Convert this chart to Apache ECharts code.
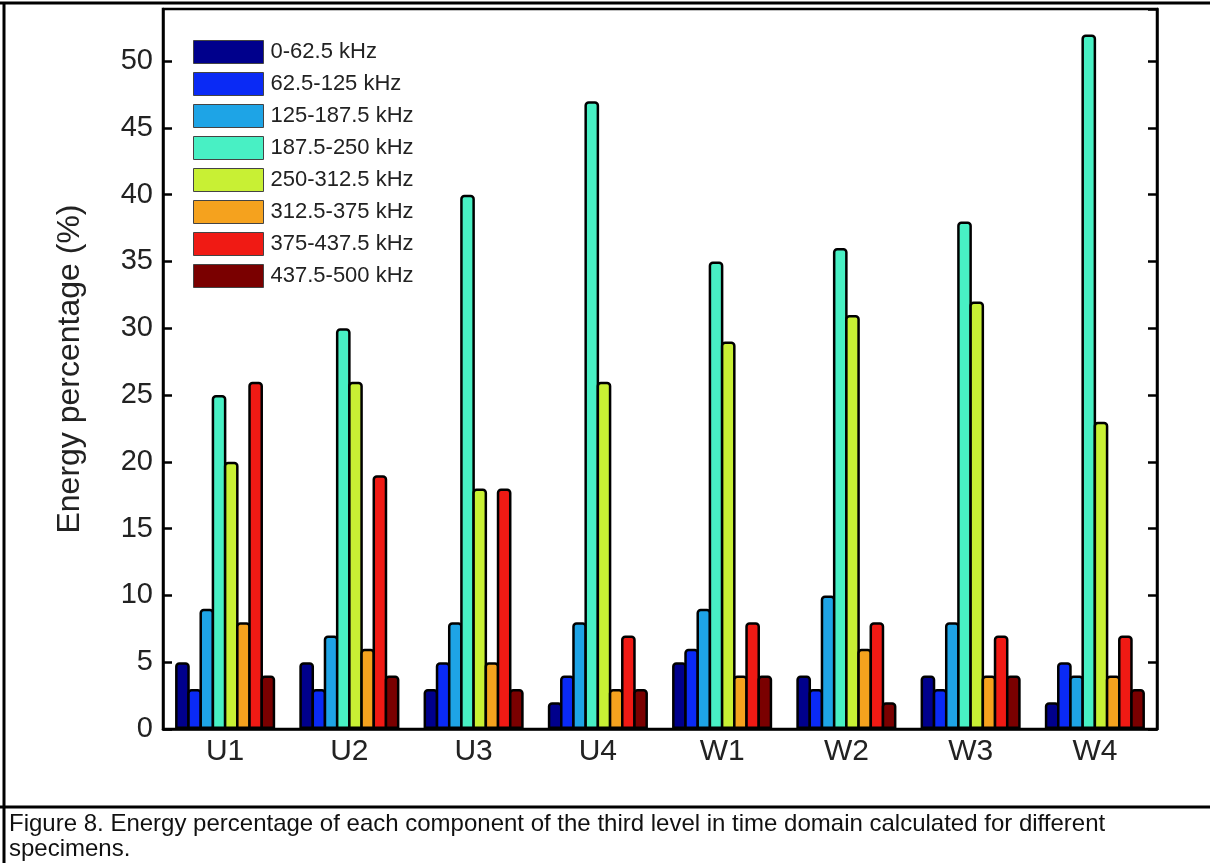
<!DOCTYPE html>
<html>
<head>
<meta charset="utf-8">
<script src="https://cdn.jsdelivr.net/npm/echarts@6/dist/echarts.min.js"></script>
<style>
html,body{margin:0;padding:0;background:#fff;}
#chart{width:1210px;height:863px;}
</style>
</head>
<body>
<div id="chart"></div>
<script>
const categories = ['U1','U2','U3','U4','W1','W2','W3','W4'];
const bandNames = ['0-62.5 kHz','62.5-125 kHz','125-187.5 kHz','187.5-250 kHz','250-312.5 kHz','312.5-375 kHz','375-437.5 kHz','437.5-500 kHz'];
const band1 = [5, 5, 3, 2, 5, 4, 4, 2];
const band2 = [3, 3, 5, 4, 6, 3, 3, 5];
const band3 = [9, 7, 8, 8, 9, 10, 8, 4];
const band4 = [25, 30, 40, 47, 35, 36, 38, 52];
const band5 = [20, 26, 18, 26, 29, 31, 32, 23];
const band6 = [8, 6, 5, 3, 4, 6, 4, 4];
const band7 = [26, 19, 18, 7, 8, 8, 7, 7];
const band8 = [4, 4, 3, 3, 4, 2, 4, 3];
const bandValues = [band1, band2, band3, band4, band5, band6, band7, band8];
const bandColors = ['#00008c','#0a2af5','#1ea4e6','#48f0c4','#c8f034','#f5a21e','#f01a14','#7a0000'];
const yTicks = [0,5,10,15,20,25,30,35,40,45,50];
const captionLine1 = 'Figure 8. Energy percentage of each component of the third level in time domain calculated for different';
const captionLine2 = 'specimens.';

const chart = echarts.init(document.getElementById('chart'), null, {renderer:'canvas'});
const font = '"Liberation Sans", Arial, sans-serif';

const series = bandNames.map((name, i) => ({
  name: name,
  type: 'bar',
  data: bandValues[i],
  barWidth: 14.7,
  barGap: '-17%',
  itemStyle: {color: bandColors[i], borderColor: '#000', borderWidth: 2.5, borderRadius: [3,3,0,0]},
  emphasis: {disabled: true}
}));

const option = {
  animation: false,
  backgroundColor: '#fff',
  textStyle: {fontFamily: font},
  grid: {left: 163, right: 53, top: 9, bottom: 134, show: true, borderColor: '#000', borderWidth: 2.5, backgroundColor: 'transparent'},
  legend: {
    orient: 'vertical',
    left: 193,
    top: 40,
    padding: 0,
    itemWidth: 70,
    itemHeight: 23,
    itemGap: 8,
    icon: 'rect',
    data: bandNames,
    itemStyle: {borderColor: '#444', borderWidth: 1},
    textStyle: {fontFamily: font, fontSize: 22, color: '#222', padding: [0,0,0,2]},
    selectedMode: false
  },
  xAxis: [{
    type: 'category',
    data: categories,
    axisLine: {show: true, lineStyle: {color: '#000', width: 2.5}},
    axisTick: {show: false},
    axisLabel: {fontFamily: font, fontSize: 30, color: '#222', margin: 8},
    splitLine: {show: false}
  }],
  yAxis: [{
    type: 'value',
    min: 0,
    max: 53.9,
    interval: 5,
    name: 'Energy percentage (%)',
    nameLocation: 'middle',
    nameGap: 77,
    nameTextStyle: {fontFamily: font, fontSize: 32, color: '#222'},
    axisLine: {show: true, lineStyle: {color: '#000', width: 2.5}},
    axisTick: {show: true, inside: true, length: 9, lineStyle: {color: '#000', width: 2.5}},
    axisLabel: {fontFamily: font, fontSize: 29, color: '#222', margin: 10, showMaxLabel: false,
      formatter: v => (yTicks.indexOf(v) >= 0 ? String(v) : '')},
    splitLine: {show: false}
  },{
    type: 'value',
    position: 'right',
    min: 0,
    max: 53.9,
    interval: 5,
    axisLine: {show: true, lineStyle: {color: '#000', width: 2.5}},
    axisTick: {show: true, inside: true, length: 9, lineStyle: {color: '#000', width: 2.5}},
    axisLabel: {show: false},
    splitLine: {show: false}
  }],
  series: series,
  graphic: [
    {type: 'line', shape: {x1: 0, y1: 3, x2: 1210, y2: 3}, style: {stroke: '#000', lineWidth: 3}, silent: true},
    {type: 'line', shape: {x1: 4, y1: 2, x2: 4, y2: 863}, style: {stroke: '#000', lineWidth: 3}, silent: true},
    {type: 'line', shape: {x1: 0, y1: 807, x2: 1210, y2: 807}, style: {stroke: '#000', lineWidth: 3}, silent: true},
    {type: 'text', left: 9, top: 812, style: {text: captionLine1, fontFamily: font, fontSize: 24, fill: '#111'}, silent: true},
    {type: 'text', left: 9, top: 837, style: {text: captionLine2, fontFamily: font, fontSize: 24, fill: '#111'}, silent: true}
  ]
};
chart.setOption(option);
</script>
</body>
</html>
